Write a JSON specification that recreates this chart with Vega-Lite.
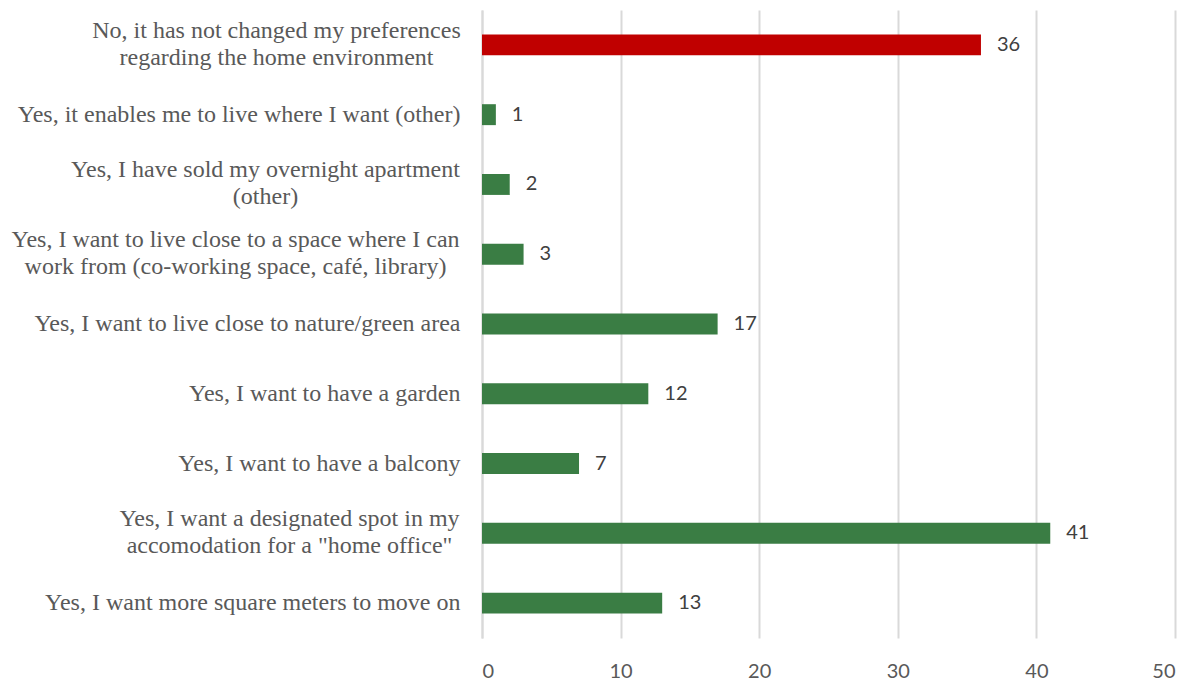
{
  "$schema": "https://vega.github.io/schema/vega-lite/v6.json",
  "width": 693,
  "height": 628,
  "autosize": {"type": "none"},
  "padding": {"left": 482, "top": 10, "right": 20, "bottom": 46},
  "background": "white",
  "config": {"view": {"stroke": null}},
  "data": {
    "values": [
      {"category": "No, it has not changed my preferences|regarding the home environment", "value": 36, "group": "no"},
      {"category": "Yes, it enables me to live where I want (other)", "value": 1, "group": "yes"},
      {"category": "Yes, I have sold my overnight apartment|(other)", "value": 2, "group": "yes"},
      {"category": "Yes, I want to live close to a space where I can|work from (co-working space, café, library)", "value": 3, "group": "yes"},
      {"category": "Yes, I want to live close to nature/green area", "value": 17, "group": "yes"},
      {"category": "Yes, I want to have a garden", "value": 12, "group": "yes"},
      {"category": "Yes, I want to have a balcony", "value": 7, "group": "yes"},
      {"category": "Yes, I want a designated spot in my|accomodation for a \"home office\"", "value": 41, "group": "yes"},
      {"category": "Yes, I want more square meters to move on", "value": 13, "group": "yes"}
    ]
  },
  "encoding": {
    "y": {
      "field": "category",
      "type": "nominal",
      "sort": null,
      "title": null,
      "scale": {"paddingInner": 0.7, "paddingOuter": 0.35},
      "axis": {
        "labelExpr": "split(datum.label, '|')",
        "labelFont": "Liberation Serif",
        "labelFontSize": 24,
        "labelColor": "#595959",
        "labelLineHeight": 27,
        "labelPadding": {
          "condition": [
            {"test": "indexof(datum.value, 'No, it has') === 0", "value": 206},
            {"test": "indexof(datum.value, 'Yes, I have sold') === 0", "value": 217},
            {"test": "indexof(datum.value, 'Yes, I want to live close to a space') === 0", "value": 247},
            {"test": "indexof(datum.value, 'Yes, I want a designated') === 0", "value": 193}
          ],
          "value": 22
        },
        "labelAlign": {
          "condition": {"test": "indexof(datum.value, '|') >= 0", "value": "center"},
          "value": "right"
        },
        "labelOffset": {
          "condition": {"test": "indexof(datum.value, '|') >= 0", "value": -14},
          "value": 0
        },
        "labelLimit": 600,
        "ticks": false,
        "domainColor": "#D9D9D9",
        "domainWidth": 2
      }
    },
    "x": {
      "field": "value",
      "type": "quantitative",
      "title": null,
      "scale": {"domain": [0, 50], "nice": false},
      "axis": {
        "values": [0, 10, 20, 30, 40, 50],
        "domain": false,
        "ticks": false,
        "gridColor": "#D9D9D9",
        "gridWidth": 2,
        "labelFont": "Lato",
        "labelFontSize": 20,
        "labelColor": "#595959",
        "labelPadding": 23
      }
    }
  },
  "layer": [
    {
      "mark": {"type": "bar"},
      "encoding": {
        "color": {
          "field": "group",
          "type": "nominal",
          "scale": {"domain": ["no", "yes"], "range": ["#C00000", "#3A7D44"]},
          "legend": null
        }
      }
    },
    {
      "mark": {"type": "text", "align": "left", "dx": 16, "font": "Lato", "fontSize": 20, "color": "#404040"},
      "encoding": {"text": {"field": "value", "type": "quantitative"}}
    }
  ]
}
